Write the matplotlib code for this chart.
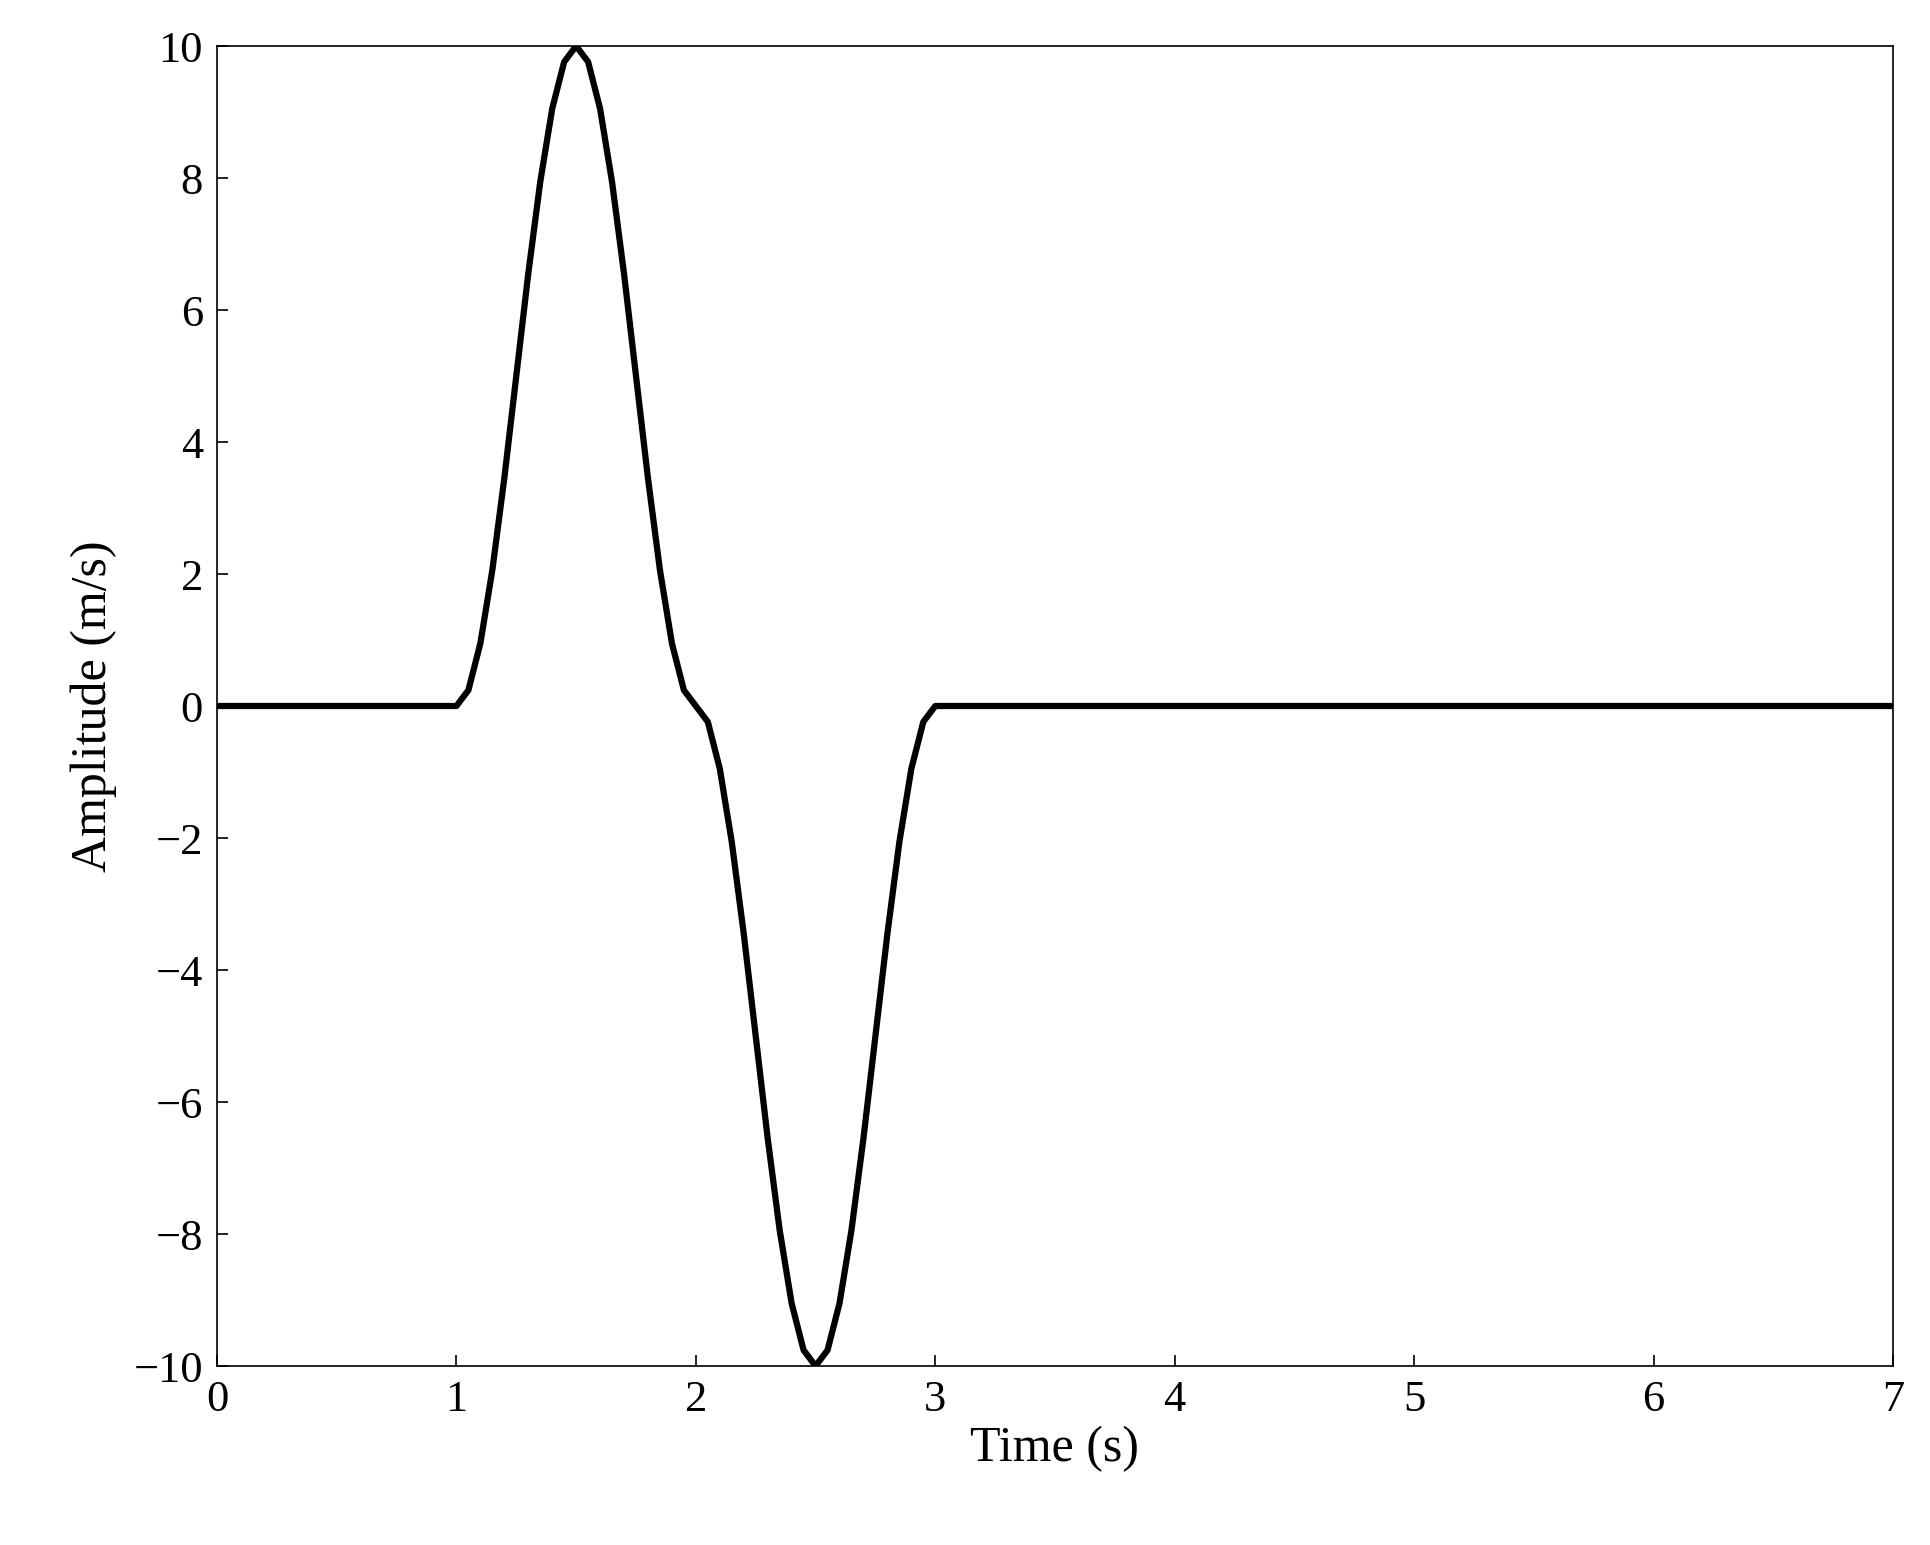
import matplotlib
matplotlib.use("Agg")
import matplotlib.pyplot as plt

plt.rcParams["font.family"] = ["Liberation Serif", "DejaVu Serif"]

# values
time_s = [0.0, 1.0, 1.05, 1.1, 1.15, 1.2, 1.25, 1.3, 1.35, 1.4, 1.45, 1.5,
          1.55, 1.6, 1.65, 1.7, 1.75, 1.8, 1.85, 1.9, 1.95, 2.0,
          2.05, 2.1, 2.15, 2.2, 2.25, 2.3, 2.35, 2.4, 2.45, 2.5,
          2.55, 2.6, 2.65, 2.7, 2.75, 2.8, 2.85, 2.9, 2.95, 3.0, 7.0]
amplitude = [0.0, 0.0, 0.24, 0.95, 2.06, 3.45, 5.0, 6.55, 7.94, 9.05, 9.76, 10.0,
             9.76, 9.05, 7.94, 6.55, 5.0, 3.45, 2.06, 0.95, 0.24, 0.0,
             -0.24, -0.95, -2.06, -3.45, -5.0, -6.55, -7.94, -9.05, -9.76, -10.0,
             -9.76, -9.05, -7.94, -6.55, -5.0, -3.45, -2.06, -0.95, -0.24, 0.0, 0.0]

fig = plt.figure(figsize=(19.3, 15.45), dpi=100)
ax = fig.add_axes([217 / 1930, 1 - 1366 / 1545, 1676 / 1930, 1320 / 1545])
ax.plot(time_s, amplitude, color="black", linewidth=4.5)
ax.set_xlim(0, 7)
ax.set_ylim(-10, 10)
ax.set_xticks(range(0, 8))
ax.set_yticks(range(-10, 11, 2))
ax.tick_params(direction="in", labelsize=32, length=8, width=1.2, pad=10)
for s in ax.spines.values():
    s.set_linewidth(1.2)
ax.set_xlabel("Time (s)", fontsize=36, labelpad=4)
ax.set_ylabel("Amplitude (m/s)", fontsize=36, labelpad=12)

fig.savefig("out.png", dpi=100)
